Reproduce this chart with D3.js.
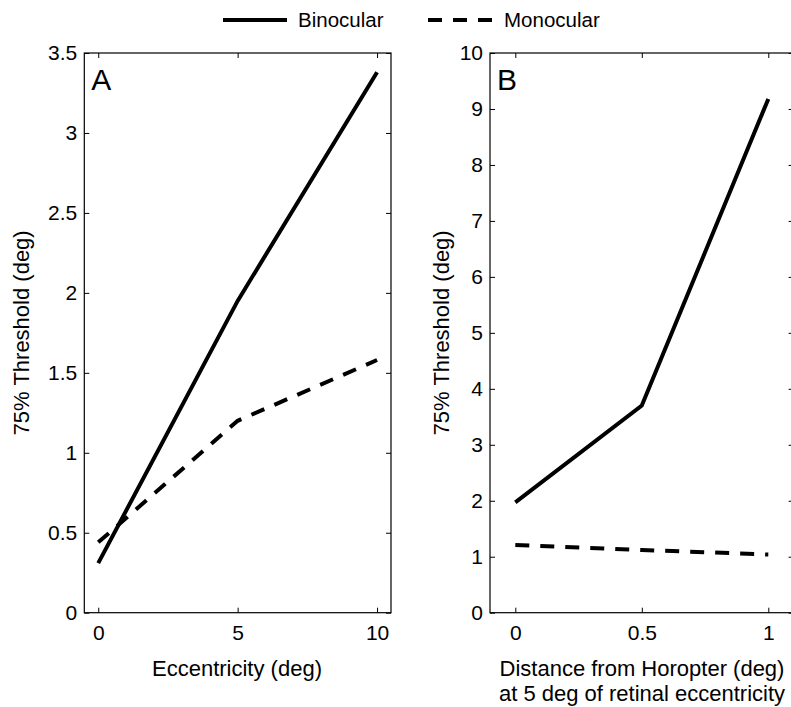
<!DOCTYPE html>
<html>
<head>
<meta charset="utf-8">
<script src="https://cdn.jsdelivr.net/npm/d3@7"></script>
<style>
  body { margin: 0; background: #fff; }
  svg text { font-family: "Liberation Sans", Arial, Helvetica, sans-serif; fill: #000; }
</style>
</head>
<body>
<svg width="791" height="707"></svg>
<script>
// panel A: threshold vs eccentricity
const eccA = [0, 5, 10];
const binoA = [0.31, 1.95, 3.38];
const monoA = [0.44, 1.20, 1.58];
const xTicksA = [0, 5, 10];
const yTicksA = [0, 0.5, 1, 1.5, 2, 2.5, 3, 3.5];

// panel B: threshold vs distance from horopter
const distB = [0, 0.5, 1];
const binoB = [1.97, 3.70, 9.18];
const monoB = [1.21, 1.12, 1.04];
const xTicksB = [0, 0.5, 1];
const yTicksB = [0, 1, 2, 3, 4, 5, 6, 7, 8, 9, 10];

const seriesNames = ["Binocular", "Monocular"];

let svg = d3.select("svg");

const plotTop = 53, plotBottom = 612.7;
const dash = "14,11";

function drawPanel(opts) {
    let x = d3.scaleLinear().domain(opts.xDomain).range([opts.left, opts.right]);
    let y = d3.scaleLinear().domain(opts.yDomain).range([plotBottom, plotTop]);
    let g = svg.append("g");

    // box
    g.append("rect")
        .attr("x", opts.left).attr("y", plotTop)
        .attr("width", opts.right - opts.left).attr("height", plotBottom - plotTop)
        .attr("fill", "none").attr("stroke", "#000").attr("stroke-width", 1.2);

    let fmt = d => String(d);

    // bottom axis with labels, ticks pointing in
    let bx = g.append("g").attr("transform", `translate(0,${plotBottom})`)
        .call(d3.axisBottom(x).tickValues(opts.xTicks).tickFormat(fmt).tickSize(-5).tickPadding(12));
    let tx = g.append("g").attr("transform", `translate(0,${plotTop})`)
        .call(d3.axisTop(x).tickValues(opts.xTicks).tickFormat("").tickSize(-5));
    let ly = g.append("g").attr("transform", `translate(${opts.left},0)`)
        .call(d3.axisLeft(y).tickValues(opts.yTicks).tickFormat(fmt).tickSize(-5).tickPadding(7));
    let ry = g.append("g").attr("transform", `translate(${opts.right},0)`)
        .call(d3.axisRight(y).tickValues(opts.yTicks).tickFormat("").tickSize(-5));

    [bx, tx, ly, ry].forEach(a => {
        a.select(".domain").remove();
        a.selectAll(".tick line").attr("stroke", "#000").attr("stroke-width", 1);
        a.selectAll("text").attr("font-size", 21).attr("font-family", null).attr("fill", "#000");
    });
    bx.selectAll("text").attr("dy", "0.71em");

    let line = d3.line()
        .x(d => x(d[0]))
        .y(d => y(d[1]));

    g.append("path")
        .datum(opts.xs.map((v, i) => [v, opts.bino[i]]))
        .attr("d", line)
        .attr("fill", "none").attr("stroke", "#000").attr("stroke-width", 4);

    g.append("path")
        .datum(opts.xs.map((v, i) => [v, opts.mono[i]]))
        .attr("d", line)
        .attr("fill", "none").attr("stroke", "#000").attr("stroke-width", 4)
        .attr("stroke-dasharray", dash);

    // panel letter
    g.append("text")
        .attr("x", opts.left + 7).attr("y", 90)
        .attr("font-size", 30)
        .text(opts.letter);

    // y title
    g.append("text")
        .attr("transform", `translate(${opts.yTitleX},${(plotTop + plotBottom) / 2}) rotate(-90)`)
        .attr("text-anchor", "middle")
        .attr("font-size", 22)
        .text("75% Threshold (deg)");

    // x title (one or more lines)
    opts.xTitle.forEach((t, i) => {
        g.append("text")
            .attr("x", opts.xTitleX).attr("y", 676 + i * 25)
            .attr("text-anchor", "middle")
            .attr("font-size", 22)
            .text(t);
    });
}

drawPanel({
    left: 84.3, right: 391, xDomain: [-0.5, 10.5], yDomain: [0, 3.5],
    xTicks: xTicksA, yTicks: yTicksA, xs: eccA, bino: binoA, mono: monoA,
    letter: "A", yTitleX: 29, xTitle: ["Eccentricity (deg)"], xTitleX: 237
});

drawPanel({
    left: 490, right: 793.6, xDomain: [-0.1, 1.1], yDomain: [0, 10],
    xTicks: xTicksB, yTicks: yTicksB, xs: distB, bino: binoB, mono: monoB,
    letter: "B", yTitleX: 449,
    xTitle: ["Distance from Horopter (deg)", "at 5 deg of retinal eccentricity"], xTitleX: 642
});

// legend
let legend = svg.append("g");
const legendItems = [
    {name: seriesNames[0], x1: 223, x2: 287, tx: 298, dash: null},
    {name: seriesNames[1], x1: 428, x2: 493, tx: 504, dash: dash}
];
legendItems.forEach(d => {
    legend.append("line")
        .attr("x1", d.x1).attr("x2", d.x2).attr("y1", 20).attr("y2", 20)
        .attr("stroke", "#000").attr("stroke-width", 4)
        .attr("stroke-dasharray", d.dash);
    legend.append("text")
        .attr("x", d.tx).attr("y", 27)
        .attr("font-size", 20.5)
        .text(d.name);
});
</script>
</body>
</html>
